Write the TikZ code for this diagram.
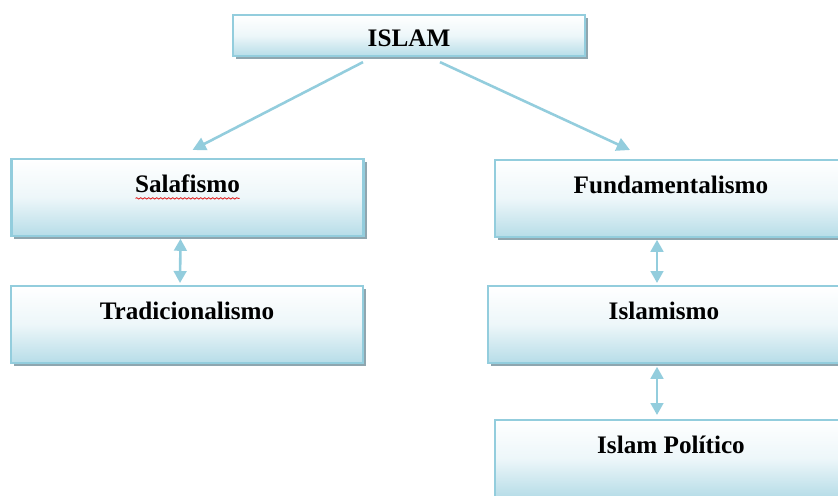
\documentclass[tikz,border=0pt]{standalone}
\usepackage{fontspec}
\setmainfont{Liberation Serif}
\usepackage{tikz}
\usetikzlibrary{arrows.meta,shadows,decorations.pathmorphing}
\definecolor{FrameBlue}{HTML}{93CDDD}
\definecolor{FadeBlue}{HTML}{B7DDE8}
\definecolor{ShadowGrey}{HTML}{8FA6AF}
\definecolor{SpellRed}{HTML}{E02020}

\begin{document}
\begin{tikzpicture}[
  x=0.03cm,y=-0.03cm,
  concept/.style={draw=FrameBlue,line width=1.8pt,top color=white,bottom color=FadeBlue,
                  middle color=white!75!FadeBlue,
                  minimum width=105.6mm,inner ysep=0pt,text height=10mm,text depth=13mm,
                  anchor=north,font=\fontsize{21.5}{24}\selectfont\bfseries,
                  drop shadow={shadow xshift=0.9mm,shadow yshift=-0.9mm,fill=ShadowGrey,opacity=1}},
  link/.style={-{Triangle[length=4mm,width=4mm]},line width=2.2pt,draw=FrameBlue},
  link2/.style={{Triangle[length=3.6mm,width=3.8mm]}-{Triangle[length=3.6mm,width=3.8mm]},
                line width=2.2pt,draw=FrameBlue},
  spell/.style={draw=SpellRed,line width=0.7pt,
                decorate,decoration={snake,amplitude=0.6pt,segment length=1.2mm}}
]
\useasboundingbox (0,0) rectangle (838,495);

% Top concept
\node[concept,text height=9.3mm,text depth=3mm] (islam) at (409,14) {ISLAM};

% Left branch
\node[concept] (salaf) at (187.5,158) {Salafismo};
\node[concept] (trad) at (187,285) {Tradicionalismo};

% Right branch
\node[concept] (fund) at (671,159) {Fundamentalismo};
\node[concept] (isl) at (664,285) {Islamismo};
\node[concept] (pol) at (671,419) {Islam Político};

\draw[spell] ([shift={(-52,6)}]salaf.base) -- ([shift={(52,6)}]salaf.base);

\draw[link] ([shift={(-46,5)}]islam.south) -- ([shift={(5,-8)}]salaf.north);
\draw[link] ([shift={(31,5)}]islam.south) -- ([shift={(-41,-9)}]fund.north);
\draw[link2] ([shift={(-7,2)}]salaf.south) -- ([shift={(-7,-2)}]trad.north);
\draw[link2] ([shift={(-14,2)}]fund.south) -- ([shift={(-7,-2)}]isl.north);
\draw[link2] ([shift={(-7,3)}]isl.south) -- ([shift={(-14,-4)}]pol.north);
\end{tikzpicture}
\end{document}
